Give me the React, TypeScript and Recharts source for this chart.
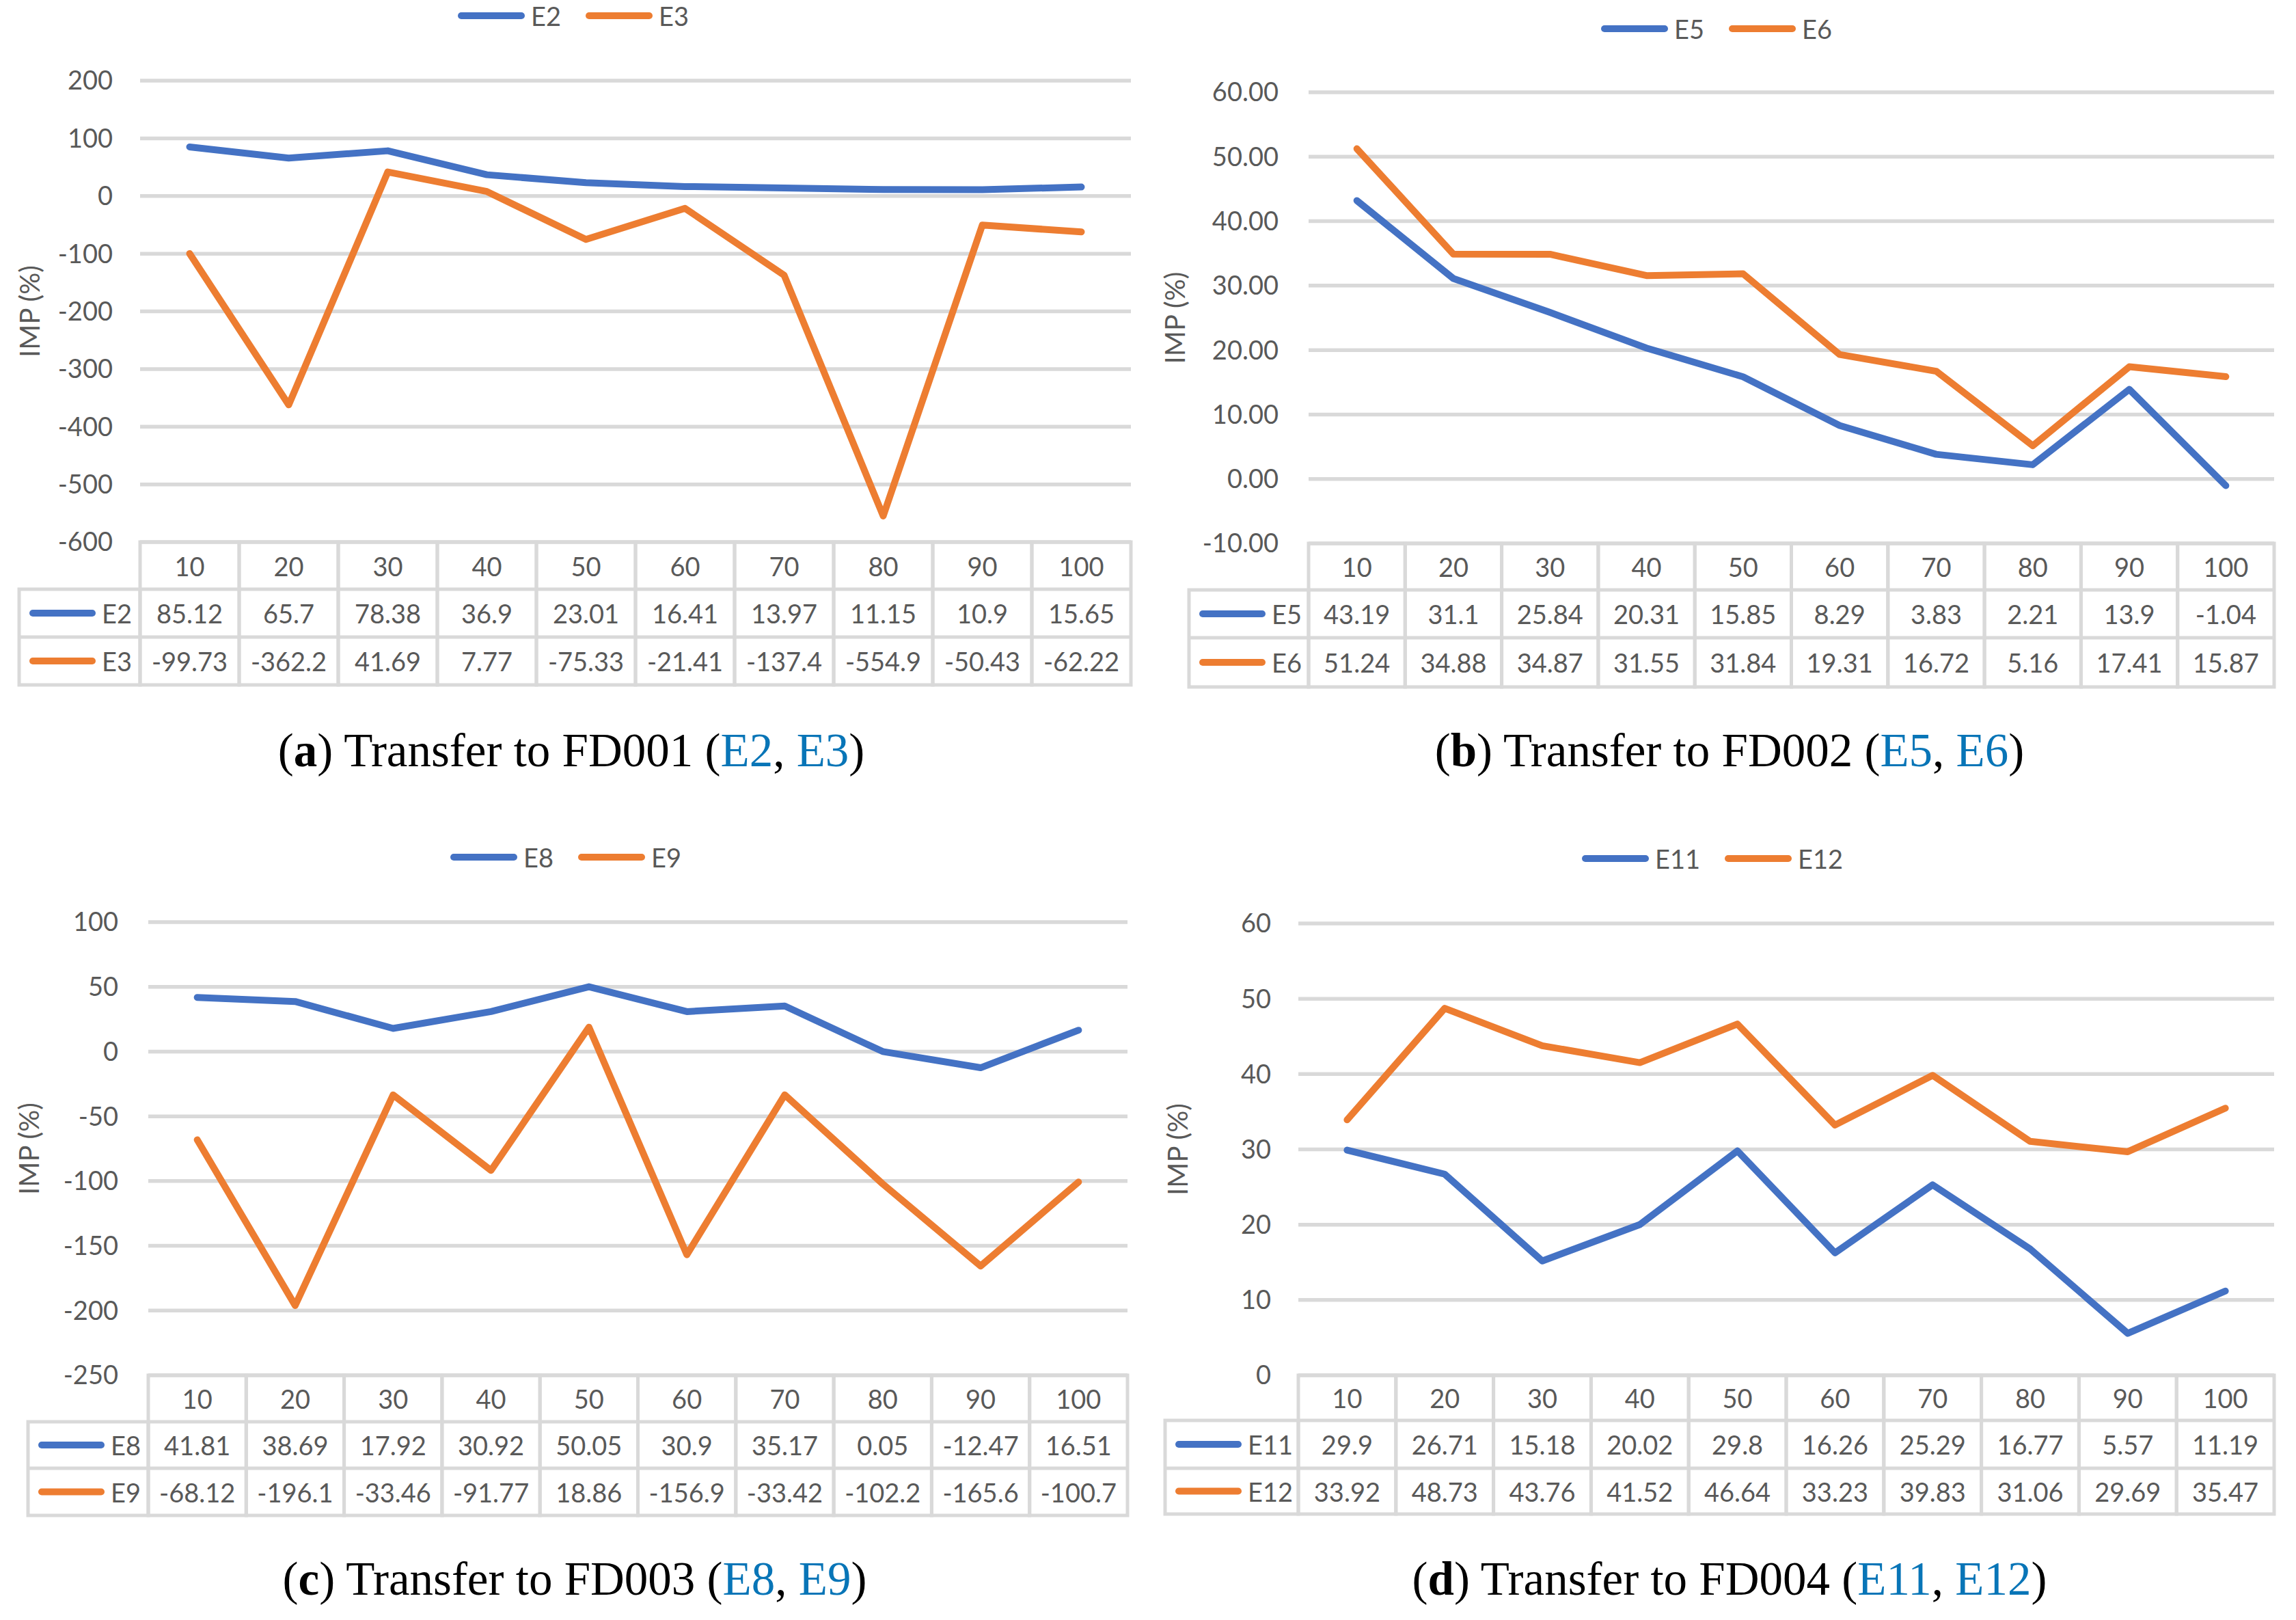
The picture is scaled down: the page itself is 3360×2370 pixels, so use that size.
import React from 'react';
import { LineChart, Line, XAxis, YAxis, CartesianGrid } from 'recharts';

const categories = ['10', '20', '30', '40', '50', '60', '70', '80', '90', '100'];

const e2 = [85.12, 65.7, 78.38, 36.9, 23.01, 16.41, 13.97, 11.15, 10.9, 15.65];
const e3 = [-99.73, -362.2, 41.69, 7.77, -75.33, -21.41, -137.4, -554.9, -50.43, -62.22];
const e5 = [43.19, 31.1, 25.84, 20.31, 15.85, 8.29, 3.83, 2.21, 13.9, -1.04];
const e6 = [51.24, 34.88, 34.87, 31.55, 31.84, 19.31, 16.72, 5.16, 17.41, 15.87];
const e8 = [41.81, 38.69, 17.92, 30.92, 50.05, 30.9, 35.17, 0.05, -12.47, 16.51];
const e9 = [-68.12, -196.1, -33.46, -91.77, 18.86, -156.9, -33.42, -102.2, -165.6, -100.7];
const e11 = [29.9, 26.71, 15.18, 20.02, 29.8, 16.26, 25.29, 16.77, 5.57, 11.19];
const e12 = [33.92, 48.73, 43.76, 41.52, 46.64, 33.23, 39.83, 31.06, 29.69, 35.47];

const ticksA = [-600, -500, -400, -300, -200, -100, 0, 100, 200];
const ticksB = [-10, 0, 10, 20, 30, 40, 50, 60];
const ticksC = [-250, -200, -150, -100, -50, 0, 50, 100];
const ticksD = [0, 10, 20, 30, 40, 50, 60];

const BLUE = '#4472C4';
const ORANGE = '#ED7D31';
const GRID = '#D9D9D9';
const TEXT = '#595959';
const LINK = '#0875B7';
const FONT = 'Lato, "Open Sans", sans-serif';
const SERIF = '"Liberation Serif", "DejaVu Serif", serif';

type Plot = { l: number; r: number; t: number; b: number };

interface PanelProps {
	left: number;
	top: number;
	width: number;
	height: number;
	plot: Plot;
	rows: number[];
	keyX: number;
	tickGap: number;
	titleX: number;
	legendX: number;
	legendY: number;
	names: [string, string];
	s1: number[];
	s2: number[];
	ticks: number[];
	decimals?: number;
}

function Panel(p: PanelProps) {
	const data = categories.map((c, i) => ({ x: c, s1: p.s1[i], s2: p.s2[i] }));
	const bw = (p.plot.r - p.plot.l) / categories.length;
	const rows = p.rows;
	const xAxisHeight = rows[3] - p.plot.b + 10;
	const yAxisWidth = p.plot.l - 20;

	const txt = (x: number, y: number, s: string, anchor = 'middle') => (
		<text x={x} y={y} textAnchor={anchor} dominantBaseline="central" fill={TEXT} fontSize={38} fontFamily={FONT}>
			{s}
		</text>
	);

	// data table drawn under the plot, one column per category tick
	const TableTick = (props: any) => {
		const { x, index, payload } = props;
		const x0 = x - bw / 2;
		const cell = { fill: 'none', stroke: GRID, strokeWidth: 5 };
		const r1 = (rows[1] + rows[2]) / 2;
		const r2 = (rows[2] + rows[3]) / 2;
		return (
			<g>
				<rect x={x0} y={rows[0]} width={bw} height={rows[3] - rows[0]} {...cell} />
				<line x1={x0} x2={x0 + bw} y1={rows[1]} y2={rows[1]} stroke={GRID} strokeWidth={5} />
				<line x1={x0} x2={x0 + bw} y1={rows[2]} y2={rows[2]} stroke={GRID} strokeWidth={5} />
				{txt(x, (rows[0] + rows[1]) / 2, String(payload.value))}
				{txt(x, r1, String(p.s1[index]))}
				{txt(x, r2, String(p.s2[index]))}
				{index === 0 && (
					<g>
						<rect x={p.keyX} y={rows[1]} width={x0 - p.keyX} height={rows[3] - rows[1]} {...cell} />
						<line x1={p.keyX} x2={x0} y1={rows[2]} y2={rows[2]} stroke={GRID} strokeWidth={5} />
						<line x1={p.keyX + 20} x2={p.keyX + 107} y1={r1} y2={r1} stroke={BLUE} strokeWidth={10} strokeLinecap="round" />
						<line x1={p.keyX + 20} x2={p.keyX + 107} y1={r2} y2={r2} stroke={ORANGE} strokeWidth={10} strokeLinecap="round" />
						{txt(p.keyX + 121, r1, p.names[0], 'start')}
						{txt(p.keyX + 121, r2, p.names[1], 'start')}
					</g>
				)}
			</g>
		);
	};

	const yTitle = (props: any) => {
		const vb = props.viewBox;
		const cy = vb.y + vb.height / 2;
		return (
			<text x={p.titleX} y={cy} transform={`rotate(-90 ${p.titleX} ${cy})`} textAnchor="middle" dominantBaseline="central" fill={TEXT} fontSize={40} fontFamily={FONT}>
				IMP (%)
			</text>
		);
	};

	return (
		<div style={{ position: 'absolute', left: p.left, top: p.top, width: p.width, height: p.height }}>
			<LineChart
				width={p.width}
				height={p.height}
				data={data}
				margin={{ top: p.plot.t, right: p.width - p.plot.r, left: 20, bottom: p.height - p.plot.b - xAxisHeight }}
			>
				<CartesianGrid vertical={false} stroke={GRID} strokeWidth={5.5} />
				<XAxis
					dataKey="x"
					scale="band"
					interval={0}
					axisLine={false}
					tickLine={false}
					tickSize={0}
					height={xAxisHeight}
					tick={<TableTick />}
				/>
				<YAxis
					width={yAxisWidth}
					domain={[p.ticks[0], p.ticks[p.ticks.length - 1]]}
					ticks={p.ticks}
					axisLine={false}
					tickLine={false}
					tickSize={0}
					tickMargin={p.tickGap}
					tick={{ fill: TEXT, fontSize: 38, fontFamily: FONT }}
					tickFormatter={(v: number) => (p.decimals ? v.toFixed(p.decimals) : String(v))}
					label={{ content: yTitle }}
				/>
				<Line dataKey="s1" type="linear" stroke={BLUE} strokeWidth={10} dot={false} strokeLinejoin="round" strokeLinecap="round" isAnimationActive={false} />
				<Line dataKey="s2" type="linear" stroke={ORANGE} strokeWidth={10} dot={false} strokeLinejoin="round" strokeLinecap="round" isAnimationActive={false} />
			</LineChart>
			<div
				style={{
					position: 'absolute',
					left: p.legendX,
					top: p.legendY - 25,
					height: 50,
					display: 'flex',
					alignItems: 'center',
					fontFamily: FONT,
					fontSize: 38,
					color: TEXT,
					whiteSpace: 'nowrap',
				}}
			>
				<span style={{ display: 'inline-block', width: 98, height: 10, borderRadius: 5, background: BLUE }} />
				<span style={{ marginLeft: 9 }}>{p.names[0]}</span>
				<span style={{ display: 'inline-block', width: 98, height: 10, borderRadius: 5, background: ORANGE, marginLeft: 36 }} />
				<span style={{ marginLeft: 9 }}>{p.names[1]}</span>
			</div>
		</div>
	);
}

function Caption({ x, y, tag, target, names }: { x: number; y: number; tag: string; target: string; names: [string, string] }) {
	return (
		<text x={x} y={y} textAnchor="middle" fontFamily={SERIF} fontSize={69} fill="#000">
			<tspan>(</tspan>
			<tspan fontWeight="bold">{tag}</tspan>
			<tspan>{`) Transfer to ${target} (`}</tspan>
			<tspan fill={LINK}>{names[0]}</tspan>
			<tspan>, </tspan>
			<tspan fill={LINK}>{names[1]}</tspan>
			<tspan>)</tspan>
		</text>
	);
}

export default function App() {
	return (
		<div style={{ position: 'absolute', left: 0, top: 0, width: 3360, height: 2370, background: '#fff', overflow: 'hidden' }}>
			<Panel
				left={0} top={0} width={1680} height={1050}
				plot={{ l: 205, r: 1655, t: 118, b: 793 }}
				rows={[793, 862, 932, 1002]}
				keyX={28} tickGap={40} titleX={43}
				legendX={670} legendY={23}
				names={['E2', 'E3']} s1={e2} s2={e3} ticks={ticksA}
			/>
			<Panel
				left={1680} top={0} width={1680} height={1050}
				plot={{ l: 235, r: 1648, t: 135, b: 795 }}
				rows={[795, 863, 933, 1005]}
				keyX={60} tickGap={44} titleX={39}
				legendX={663} legendY={42}
				names={['E5', 'E6']} s1={e5} s2={e6} ticks={ticksB} decimals={2}
			/>
			<Panel
				left={0} top={1200} width={1680} height={1050}
				plot={{ l: 217, r: 1650, t: 149, b: 812 }}
				rows={[812, 880, 948, 1017]}
				keyX={41} tickGap={44} titleX={42}
				legendX={659} legendY={54}
				names={['E8', 'E9']} s1={e8} s2={e9} ticks={ticksC}
			/>
			<Panel
				left={1680} top={1200} width={1680} height={1050}
				plot={{ l: 220, r: 1648, t: 151, b: 812 }}
				rows={[812, 878, 948, 1015]}
				keyX={25} tickGap={40} titleX={43}
				legendX={635} legendY={56}
				names={['E11', 'E12']} s1={e11} s2={e12} ticks={ticksD}
			/>
			<svg width={3360} height={2370} style={{ position: 'absolute', left: 0, top: 0, pointerEvents: 'none' }}>
				<Caption x={836} y={1121} tag="a" target="FD001" names={['E2', 'E3']} />
				<Caption x={2531} y={1121} tag="b" target="FD002" names={['E5', 'E6']} />
				<Caption x={841} y={2333} tag="c" target="FD003" names={['E8', 'E9']} />
				<Caption x={2531} y={2333} tag="d" target="FD004" names={['E11', 'E12']} />
			</svg>
		</div>
	);
}
